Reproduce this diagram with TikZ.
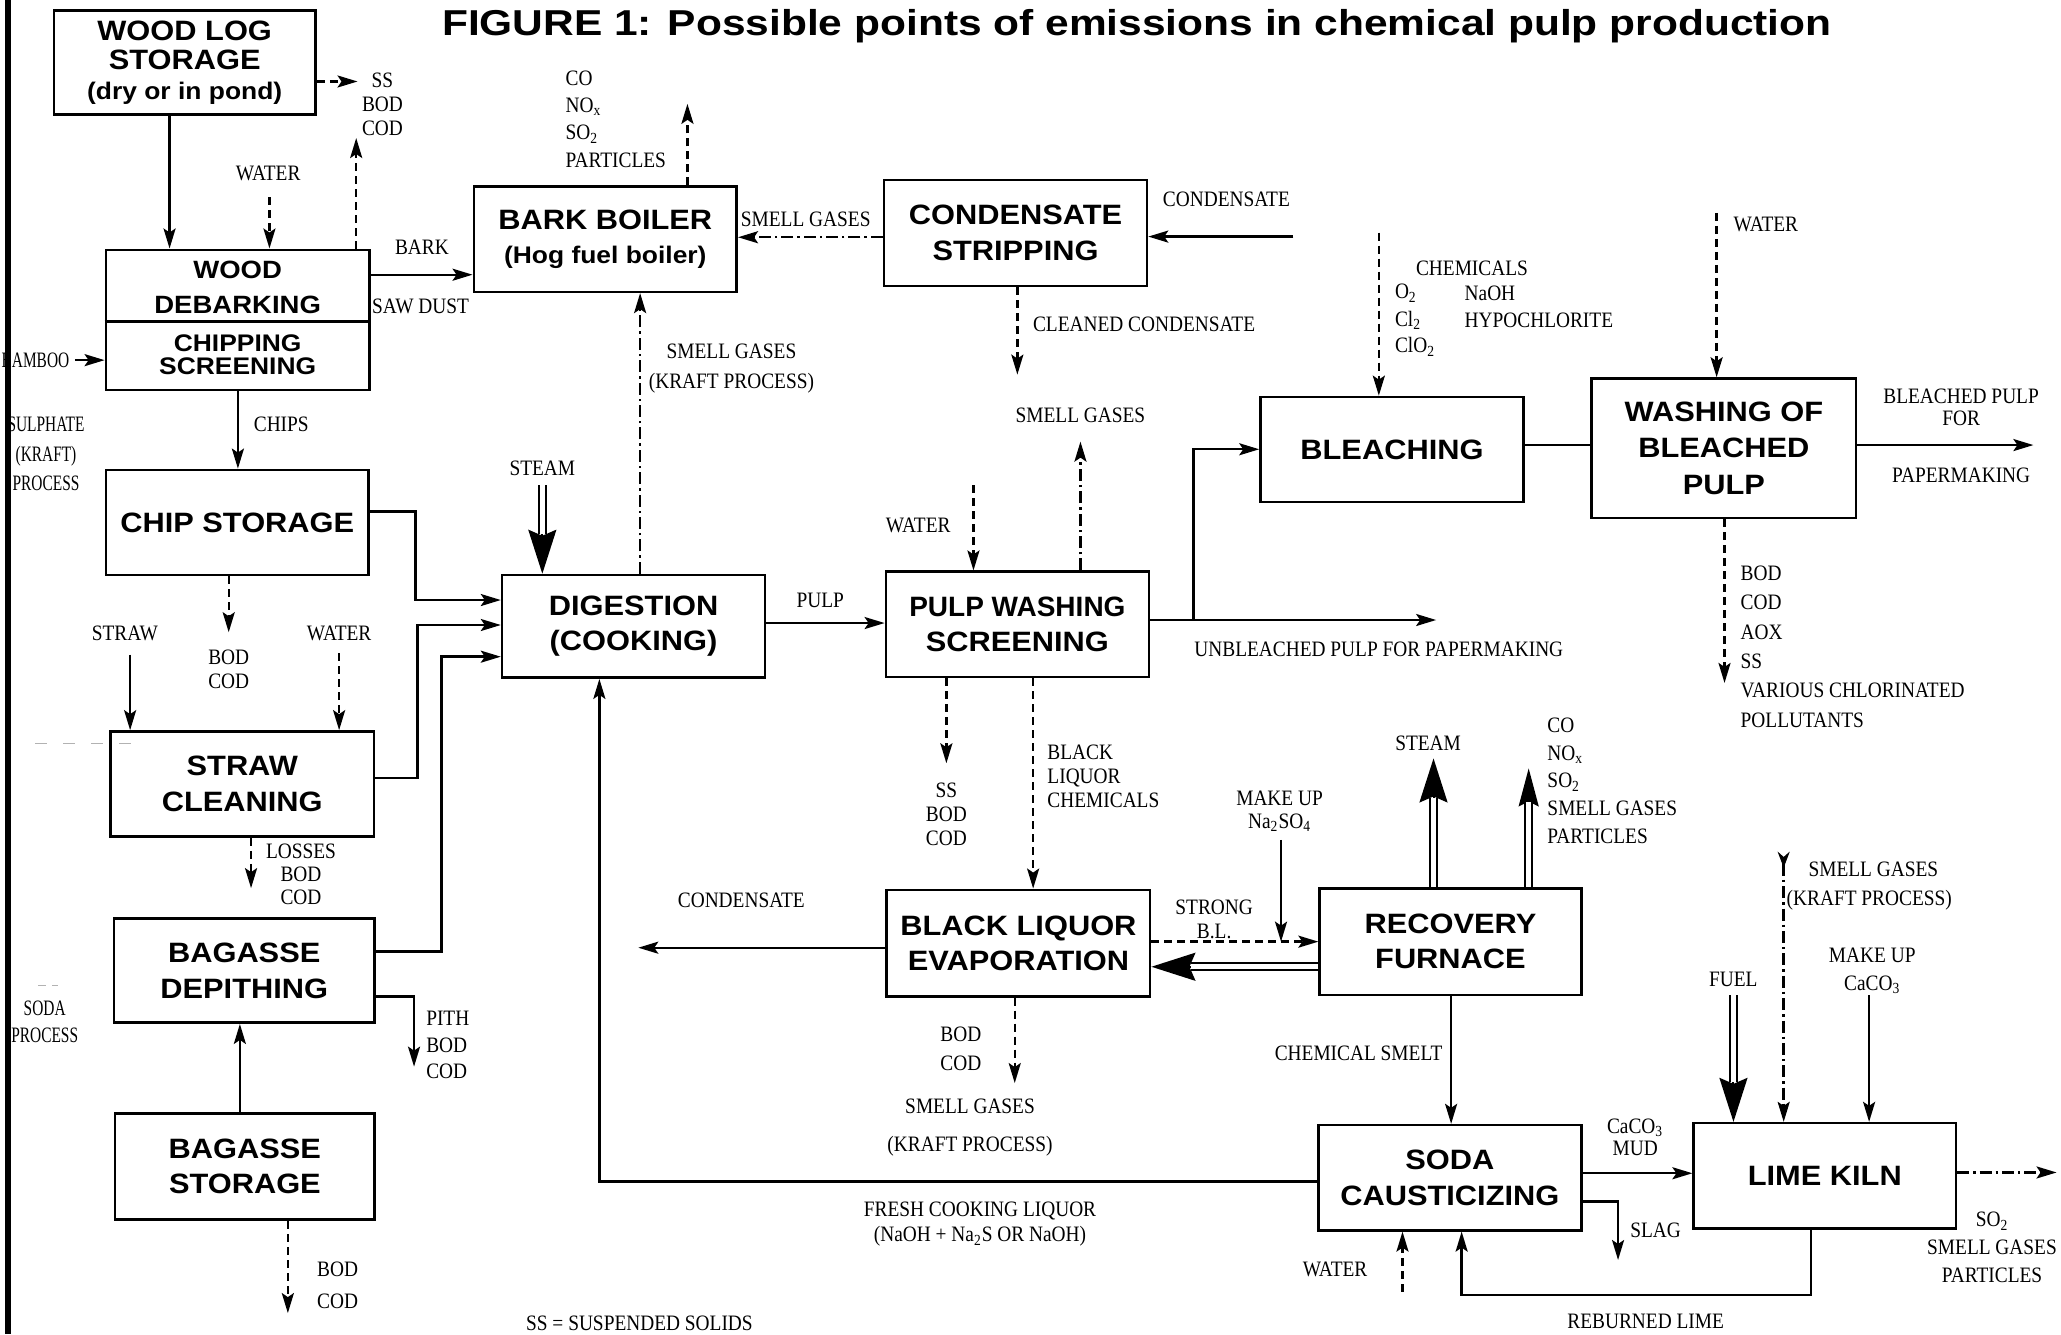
\documentclass[tikz,border=0pt]{standalone}
\usepackage{fontspec}
\setmainfont{Liberation Serif}
\newfontfamily\BoxFont{Liberation Sans}[FakeStretch=1.1]
\newfontfamily\BoxFontN{Liberation Sans}[FakeStretch=1.0]
\newfontfamily\TitleFont{Liberation Sans}[FakeStretch=1.18]
\newfontfamily\LabFont{Liberation Serif}[FakeStretch=0.88]
\newfontfamily\LabNarrow{Liberation Serif}[FakeStretch=0.7]
\usetikzlibrary{arrows.meta}
\newlength\UL \setlength\UL{0.6572pt}
\begin{document}
\begin{tikzpicture}[x=0.6572pt,y=-0.6572pt,
 box/.style={draw, line width=1.3pt, inner sep=0pt, align=center, font=\BoxFont\bfseries\fontsize{14}{#1}\selectfont},
 box/.default=17.7,
 lab/.style={inner sep=0pt, align=center, font=\LabFont\fontsize{11}{#1}\selectfont},
 lab/.default=13,
 labn/.style={inner sep=0pt, align=center, font=\LabNarrow\fontsize{11}{#1}\selectfont},
 labn/.default=13,
 labl/.style={lab=#1, align=left, anchor=west},
 labl/.default=13,
 ln/.style={line width=1.2pt},
 arr/.style={ln, -{Stealth[length=10pt,width=6pt,inset=2pt]}},
 dsh/.style={arr, dash pattern=on 4pt off 2.5pt},
 ddot/.style={arr, dash pattern=on 6pt off 2pt on 1.2pt off 2pt},
 dbl/.style={line width=1pt, double, double distance=2.5pt, shorten >=20pt},
 bigtip/.style={line width=1pt, -{Stealth[length=22pt,width=14pt,inset=3pt]}},
 midtip/.style={line width=1pt, -{Stealth[length=19pt,width=10pt,inset=2.5pt]}, shorten >=0pt},
]
\fill[white] (0,0) rectangle (1568,1015);
\useasboundingbox (0,0) rectangle (1568,1015);

% title
\node[anchor=base west, inner sep=0pt, font=\TitleFont\bfseries\fontsize{18}{20}\selectfont] (title) at (336,27) {FIGURE 1: Possible points of emissions in chemical pulp production};

% boxes
\node[box=14.8, minimum width=199\UL, minimum height=79\UL] (wls) at (140.5,47.5) {WOOD LOG\\STORAGE\\{\fontsize{12}{12}\selectfont (dry or in pond)}};
\node[box, minimum width=200.5\UL, minimum height=106.7\UL] (deb) at (180.8,243.4) {};
\draw[line width=1.3pt] (deb.west |- 0,244.7) -- (deb.east |- 0,244.7);
\node[inner sep=0pt, align=center, font=\BoxFont\bfseries\fontsize{12.5}{17.5}\selectfont] (debtop) at (180.8,219) {WOOD\\DEBARKING};
\node[inner sep=0pt, align=center, font=\BoxFont\bfseries\fontsize{12}{11.8}\selectfont] (debbot) at (180.8,270) {CHIPPING\\SCREENING};
\node[box, minimum width=200\UL, minimum height=80\UL] (chip) at (180.5,397.5) {CHIP STORAGE};
\node[box, minimum width=200.6\UL, minimum height=80\UL] (straw) at (184.3,596.5) {STRAW\\CLEANING};
\node[box, minimum width=198.4\UL, minimum height=79\UL] (bdep) at (185.8,738.5) {BAGASSE\\DEPITHING};
\node[box, minimum width=197.4\UL, minimum height=81\UL] (bsto) at (186.3,887.5) {BAGASSE\\STORAGE};
\node[box=16.6, minimum width=200\UL, minimum height=80\UL] (bark) at (460.5,182) {BARK BOILER\\{\fontsize{12}{12}\selectfont (Hog fuel boiler)}};
\node[box, minimum width=200\UL, minimum height=80.6\UL] (cond) at (772.6,177.3) {CONDENSATE\\STRIPPING};
\node[box, minimum width=200\UL, minimum height=78\UL] (dig) at (482,476.5) {DIGESTION\\(COOKING)};
\node[box, minimum width=200\UL, minimum height=80\UL] (pws) at (774,475) {{\BoxFontN PULP WASHING}\\SCREENING};
\node[box, minimum width=200\UL, minimum height=80\UL] (blch) at (1059,342) {BLEACHING};
\node[box=18.3, minimum width=201\UL, minimum height=106\UL] (wash) at (1311.5,341) {WASHING OF\\BLEACHED\\PULP};
\node[box, minimum width=200.4\UL, minimum height=81\UL] (blev) at (774.8,717.5) {BLACK LIQUOR\\EVAPORATION};
\node[box, minimum width=199\UL, minimum height=81.3\UL] (rec) at (1103.5,716.4) {RECOVERY\\FURNACE};
\node[box, minimum width=200\UL, minimum height=80\UL] (soda) at (1103,896) {SODA\\CAUSTICIZING};
\node[box, minimum width=199.5\UL, minimum height=80\UL] (kiln) at (1388.3,894.5) {LIME KILN};

% labels
\node[lab=11.8] (lss1) at (291,79.4) {SS\\BOD\\COD};
\node[lab] (lwat1) at (204,132) {WATER};
\node[labl=13.6] (lco1) at (430,90.6) {CO\\NO\textsubscript{x}\\SO\textsubscript{2}\\PARTICLES};
\node[lab] (lbark) at (321,188) {BARK};
\node[lab] (lsaw) at (320,233) {SAW DUST};
\node[labn, anchor=east] (lbam) at (53,274) {BAMBOO};
\node[lab] (lchips) at (214,323) {CHIPS};
\node[labn=14.7] (lsul) at (35,345.5) {SULPHATE\\(KRAFT)\\PROCESS};
\node[lab] (lsg1) at (613,167) {SMELL GASES};
\node[lab] (lcond1) at (933,152) {CONDENSATE};
\node[labl] (lclean) at (785.6,247) {CLEANED CONDENSATE};
\node[lab=14.9] (lsgk1) at (556.5,280.3) {SMELL GASES\\(KRAFT PROCESS)};
\node[lab] (lsg2) at (822,316) {SMELL GASES};
\node[lab] (lsteam1) at (412.6,356) {STEAM};
\node[lab] (lwat2) at (698.6,399.5) {WATER};
\node[lab] (lpulp) at (624,457) {PULP};
\node[lab] (lunb) at (1049,494) {UNBLEACHED PULP FOR PAPERMAKING};
\node[labl] (lchem) at (1077,204) {CHEMICALS};
\node[labl] (lo2) at (1061,223) {O\textsubscript{2}};
\node[labl] (lnaoh) at (1114,223) {NaOH};
\node[labl] (lcl2) at (1061,243.5) {Cl\textsubscript{2}};
\node[labl] (lhypo) at (1114,243.5) {HYPOCHLORITE};
\node[labl] (lclo2) at (1061,264) {ClO\textsubscript{2}};
\node[labl] (lwat3) at (1318.6,171) {WATER};
\node[lab=11.3] (lbp) at (1492,310) {BLEACHED PULP\\FOR};
\node[lab] (lpm) at (1492,361.4) {PAPERMAKING};
\node[labl=14.7] (lbod1) at (1324,492) {BOD\\COD\\AOX\\SS\\VARIOUS CHLORINATED\\POLLUTANTS};
\node[lab=12.2] (lbod2) at (174,509.3) {BOD\\COD};
\node[lab] (lstraw) at (95,481.8) {STRAW};
\node[lab] (lwat4) at (258,481.8) {WATER};
\node[lab=11.5] (lloss) at (229,665.5) {LOSSES\\BOD\\COD};
\node[labl=13.1] (lpith) at (324,795) {PITH\\BOD\\COD};
\node[labl=15.8] (lbod3) at (241,978) {BOD\\COD};
\node[labn=13.5] (lsoda) at (34,777.3) {SODA\\PROCESS};
\node[lab, anchor=east] (lsusp) at (573,1007) {SS = SUSPENDED SOLIDS};
\node[lab=12] (lss2) at (720,619.5) {SS\\BOD\\COD};
\node[labl=12] (lblc) at (796.6,590.5) {BLACK\\LIQUOR\\CHEMICALS};
\node[lab=11.6] (lmk1) at (973.5,617.3) {MAKE UP\\Na\textsubscript{2}SO\textsubscript{4}};
\node[lab] (lcond2) at (564,684.7) {CONDENSATE};
\node[lab=12.4] (lstrong) at (923.7,699.4) {STRONG\\B.L.};
\node[lab=14.1] (lbod4) at (731,798) {BOD\\COD};
\node[lab=19] (lsgk2) at (738,857.5) {SMELL GASES\\(KRAFT PROCESS)};
\node[lab=12.6] (lfresh) at (745.6,931.4) {FRESH COOKING LIQUOR\\(NaOH + Na\textsubscript{2}S OR NaOH)};
\node[lab] (lsteam2) at (1086.5,565.5) {STEAM};
\node[labl=13.9] (lco2) at (1177,594) {CO\\NO\textsubscript{x}\\SO\textsubscript{2}\\SMELL GASES\\PARTICLES};
\node[lab] (lsmelt) at (1033.6,801.5) {CHEMICAL SMELT};
\node[lab=10.9] (lmud) at (1244,865.3) {CaCO\textsubscript{3}\\MUD};
\node[labl] (lslag) at (1240,936) {SLAG};
\node[lab] (lwat5) at (1015.7,966) {WATER};
\node[lab] (lreb) at (1252,1005.5) {REBURNED LIME};
\node[lab] (lfuel) at (1318.6,745) {FUEL};
\node[labl] (lsg3) at (1375.6,661) {SMELL GASES};
\node[labl] (lkp3) at (1359,684.7) {(KRAFT PROCESS)};
\node[lab=14.2] (lmk2) at (1424.4,738.6) {MAKE UP\\CaCO\textsubscript{3}};
\node[lab=13.8] (lso2) at (1515.5,949) {SO\textsubscript{2}\\SMELL GASES\\PARTICLES};

% free ends
\coordinate (c-ss) at (272,62);
\coordinate (c-wat1) at (205,150);
\coordinate (c-up1) at (271,105);
\coordinate (c-bam) at (57,274);
\coordinate (c-co1) at (523,79);
\coordinate (c-condin) at (984,180);
\coordinate (c-clean) at (774,285);
\coordinate (c-steam1) at (412.6,369);
\coordinate (c-ch1) at (316,389); \coordinate (c-ch2) at (316,456.5);
\coordinate (c-st1) at (317.5,592); \coordinate (c-st2) at (317.5,475.5);
\coordinate (c-bg1) at (336,724); \coordinate (c-bg2) at (336,499.6);
\coordinate (c-bod2) at (174,481);
\coordinate (c-straw) at (99,498);
\coordinate (c-wat4) at (258,497);
\coordinate (c-loss) at (191,675.7);
\coordinate (c-pith1) at (315,758); \coordinate (c-pith2) at (315,811.5);
\coordinate (c-bod3) at (219,999);
\coordinate (c-wat2) at (740.6,369);
\coordinate (c-sg2) at (822,336);
\coordinate (c-unb) at (1092.6,471.7);
\coordinate (c-br1) at (908,471.7); \coordinate (c-br2) at (908,341.8);
\coordinate (c-chem) at (1049,177);
\coordinate (c-wat3) at (1306,162);
\coordinate (c-bp) at (1547,338.6);
\coordinate (c-bod1) at (1312,519.6);
\coordinate (c-ss2) at (720,580.7);
\coordinate (c-cond2) at (485.6,721);
\coordinate (c-mk1a) at (974.6,639); \coordinate (c-mk1b) at (974.6,716.4);
\coordinate (c-steam2) at (1090.6,577);
\coordinate (c-co2) at (1163,584.6);
\coordinate (c-fr) at (456,899);
\coordinate (c-slag1) at (1231,914); \coordinate (c-slag2) at (1231,958.6);
\coordinate (c-wat5) at (1067,982.7);
\coordinate (c-rb1) at (1378,985); \coordinate (c-rb2) at (1112,985);
\coordinate (c-fuel) at (1318.8,757);
\coordinate (c-sg3) at (1357,648);
\coordinate (c-mk2) at (1422,757);
\coordinate (c-kout) at (1564.6,892);
\coordinate (c-bod4) at (772,824);

% connectors
\draw[arr] (wls.south -| 129,0) -- (deb.north -| 129,0);
\draw[dsh] (wls.east |- c-ss) -- (c-ss);
\draw[dsh] (c-wat1) -- (deb.north -| c-wat1);
\draw[dsh] (deb.north -| c-up1) -- (c-up1);
\draw[arr] (deb.east |- 0,209) -- (bark.west |- 0,209);
\draw[arr] (deb.south -| 181,0) -- (chip.north -| 181,0);
\draw[arr] (c-bam) -- (deb.west |- c-bam);
\draw[dsh] (bark.north -| c-co1) -- (c-co1);
\draw[ddot] (cond.west |- 0,180.5) -- (bark.east |- 0,180.5);
\draw[arr] (c-condin) -- (cond.east |- c-condin);
\draw[dsh] (cond.south -| c-clean) -- (c-clean);
\draw[ddot] (dig.north -| 487,0) -- (bark.south -| 487,0);
\draw[bigtip] (c-steam1) -- (dig.north -| c-steam1);
\draw[dbl] (c-steam1) -- (dig.north -| c-steam1);
\draw[arr] (chip.east |- c-ch1) -- (c-ch1) -- (c-ch2) -- (dig.west |- c-ch2);
\draw[arr] (straw.east |- c-st1) -- (c-st1) -- (c-st2) -- (dig.west |- c-st2);
\draw[arr] (bdep.east |- c-bg1) -- (c-bg1) -- (c-bg2) -- (dig.west |- c-bg2);
\draw[dsh] (chip.south -| c-bod2) -- (c-bod2);
\draw[arr] (c-straw) -- (straw.north -| c-straw);
\draw[dsh] (c-wat4) -- (straw.north -| c-wat4);
\draw[dsh] (straw.south -| c-loss) -- (c-loss);
\draw[arr] (bdep.east |- c-pith1) -- (c-pith1) -- (c-pith2);
\draw[arr] (bsto.north -| 182.5,0) -- (bdep.south -| 182.5,0);
\draw[dsh] (bsto.south -| c-bod3) -- (c-bod3);
\draw[arr] (dig.east |- 0,474) -- (pws.west |- 0,474);
\draw[dsh] (c-wat2) -- (pws.north -| c-wat2);
\draw[ddot] (pws.north -| c-sg2) -- (c-sg2);
\draw[arr] (pws.east |- c-unb) -- (c-unb);
\draw[arr] (c-br1) -- (c-br2) -- (blch.west |- c-br2);
\draw[dsh] (c-chem) -- (blch.north -| c-chem);
\draw[ln] (blch.east |- 0,338.6) -- (wash.west |- 0,338.6);
\draw[dsh] (c-wat3) -- (wash.north -| c-wat3);
\draw[arr] (wash.east |- c-bp) -- (c-bp);
\draw[dsh] (wash.south -| c-bod1) -- (c-bod1);
\draw[dsh] (pws.south -| c-ss2) -- (c-ss2);
\draw[dsh] (pws.south -| 786,0) -- (blev.north -| 786,0);
\draw[arr] (blev.west |- c-cond2) -- (c-cond2);
\draw[dsh] (blev.east |- c-mk1b) -- (rec.west |- c-mk1b);
\draw[arr] (c-mk1a) -- (c-mk1b);
\draw[bigtip] (rec.west |- 0,735.5) -- (blev.east |- 0,735.5);
\draw[dbl] (rec.west |- 0,735.5) -- (blev.east |- 0,735.5);
\draw[bigtip] (rec.north -| c-steam2) -- (c-steam2);
\draw[dbl] (rec.north -| c-steam2) -- (c-steam2);
\draw[midtip] (rec.north -| c-co2) -- (c-co2);
\draw[dbl, shorten >=17pt] (rec.north -| c-co2) -- (c-co2);
\draw[arr] (rec.south -| 1104,0) -- (soda.north -| 1104,0);
\draw[arr] (soda.west |- c-fr) -- (c-fr) -- (dig.south -| c-fr);
\draw[arr] (soda.east |- 0,892.6) -- (kiln.west |- 0,892.6);
\draw[arr] (soda.east |- c-slag1) -- (c-slag1) -- (c-slag2);
\draw[dsh] (c-wat5) -- (soda.south -| c-wat5);
\draw[arr] (kiln.south -| c-rb1) -- (c-rb1) -- (c-rb2) -- (soda.south -| c-rb2);
\draw[bigtip] (c-fuel) -- (kiln.north -| c-fuel);
\draw[dbl] (c-fuel) -- (kiln.north -| c-fuel);
\draw[ddot, {Stealth[reversed,length=8pt,width=6pt]}-{Stealth[length=10pt,width=6pt,inset=2pt]}] (c-sg3) -- (kiln.north -| c-sg3);
\draw[arr] (c-mk2) -- (kiln.north -| c-mk2);
\draw[ddot] (kiln.east |- c-kout) -- (c-kout);
\draw[dsh] (blev.south -| c-bod4) -- (c-bod4);

% faint scan marks
\coordinate (f1a) at (27,565.5); \coordinate (f1b) at (102,565.5);
\coordinate (f2a) at (29,749.6); \coordinate (f2b) at (44,749.6);
\draw[gray!60, line width=0.5pt, dash pattern=on 6pt off 8pt] (f1a) -- (f1b);
\draw[gray!60, line width=0.5pt, dash pattern=on 4pt off 3pt] (f2a) -- (f2b);

% left margin rule
\coordinate (m1) at (6,0); \coordinate (m2) at (6,1015);
\draw[line width=3pt] (m1) -- (m2);
\end{tikzpicture}
\end{document}
